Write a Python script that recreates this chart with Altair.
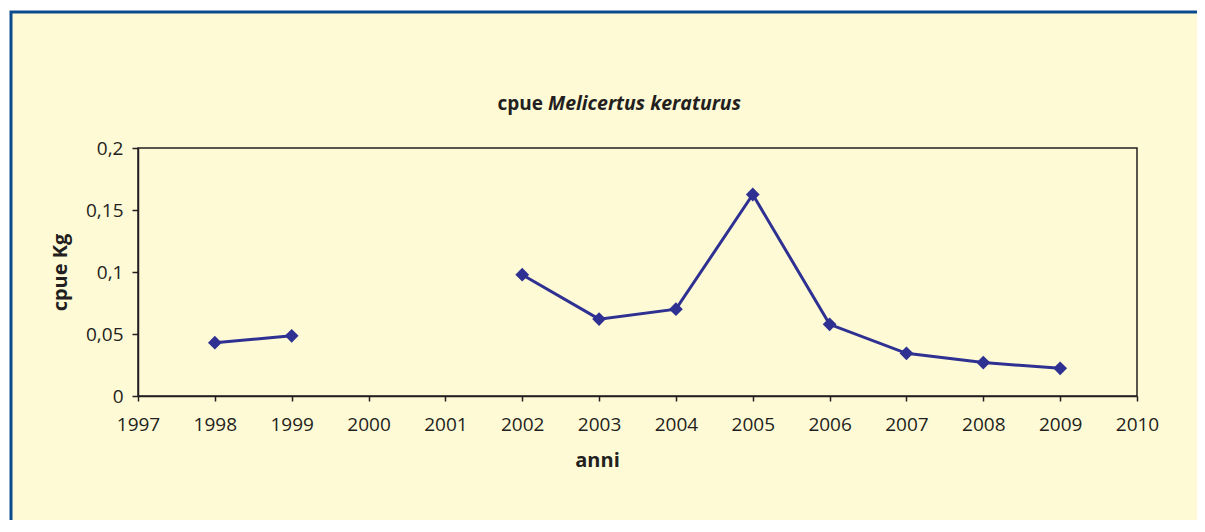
import altair as alt
import pandas as pd

years = [1998, 1999, 2000, 2001, 2002, 2003, 2004, 2005, 2006, 2007, 2008, 2009]
cpue = [0.043, 0.0485, None, None, 0.0978, 0.062, 0.070, 0.1625, 0.0578, 0.0344, 0.027, 0.0223]
x_ticks = list(range(1997, 2011))
y_ticks = [0, 0.05, 0.1, 0.15, 0.2]

title_plain = "cpue"
title_italic = "Melicertus keraturus"
x_title = "anni"
y_title = "cpue Kg"

# build table, splitting the series where values are missing
seg = []
s = 0
for v in cpue:
    if v is None:
        s += 1
    seg.append(s)
df = pd.DataFrame({"anno": years, "cpue": cpue, "seg": seg}).dropna()

FONT = "Open Sans"
TXT = "#231F20"
LINE = "#2E3192"
BG = "#FFFAD6"
BORDER = "#0B4A8C"

W, H = 999, 248

x_enc = alt.X(
    "anno:Q",
    scale=alt.Scale(domain=[1997, 2010], nice=False, zero=False),
    axis=alt.Axis(
        values=x_ticks, format="d", title=x_title, grid=False,
        labelFlush=False, labelOverlap=False,
        tickSize=5, labelPadding=14,
        titleX=459, titleY=70, titleBaseline="alphabetic", titleAlign="center",
    ),
)
y_enc = alt.Y(
    "cpue:Q",
    scale=alt.Scale(domain=[0, 0.2], nice=False),
    axis=alt.Axis(
        values=y_ticks, title=y_title, grid=False,
        labelExpr="replace(toString(datum.value), '.', ',')",
        tickSize=6, labelPadding=9,
        titleX=-72, titleY=H / 2, titleAngle=-90,
        titleBaseline="alphabetic", titleAlign="center",
    ),
)

base = alt.Chart(df)

line = base.mark_line(color=LINE, strokeWidth=3).encode(
    x=x_enc, y=y_enc, detail="seg:N"
)
pts = base.mark_point(
    shape="diamond", filled=True, color=LINE, size=190, opacity=1
).encode(x=x_enc, y=y_enc)

one = alt.Data(values=[{"k": 1}])

white_edge = alt.Chart(one).mark_rect(
    fillOpacity=0, stroke="white", strokeWidth=6
).encode(
    x=alt.value(-130), y=alt.value(-140), x2=alt.value(3000), y2=alt.value(3000)
)
border = alt.Chart(one).mark_rect(
    fillOpacity=0, stroke=BORDER, strokeWidth=3
).encode(
    x=alt.value(-127), y=alt.value(-136), x2=alt.value(3000), y2=alt.value(3000)
)

t1 = alt.Chart(one).mark_text(
    text=title_plain, font=FONT, fontSize=19, fontWeight="bold", color=TXT,
    align="right", baseline="alphabetic"
).encode(x=alt.value(405), y=alt.value(-38))
t2 = alt.Chart(one).mark_text(
    text=title_italic, font=FONT, fontSize=19.5, fontWeight="bold",
    fontStyle="italic", color=TXT, align="left", baseline="alphabetic"
).encode(x=alt.value(410), y=alt.value(-38))

chart = (
    alt.layer(white_edge, border, line, pts, t1, t2)
    .properties(
        width=W, height=H,
        autosize="none",
        padding={"left": 130, "top": 140, "right": 60, "bottom": 124},
        background=BG,
    )
    .configure_view(stroke=TXT, strokeWidth=1.5, fill=None)
    .configure_axis(
        labelFont=FONT, labelFontSize=19, labelColor=TXT,
        titleFont=FONT, titleFontSize=20, titleFontWeight="bold", titleColor=TXT,
        domainColor=TXT, domainWidth=1.5, tickColor=TXT, tickWidth=1.5,
    )
)

chart.save("out.html", embed_options={"renderer": "svg", "actions": False})
